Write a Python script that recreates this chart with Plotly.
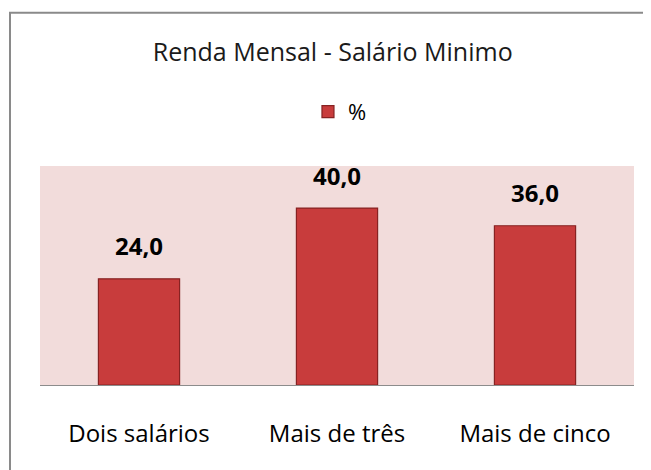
import plotly.graph_objects as go

categories = ["Dois salários", "Mais de três", "Mais de cinco"]
values = [24.0, 40.0, 36.0]
series_name = "%"
title_text = "Renda Mensal - Salário Minimo"

FONT = "Open Sans, Noto Sans, sans-serif"

fig = go.Figure()
fig.add_trace(go.Bar(
    x=categories, y=values, name=series_name, width=0.41,
    marker=dict(color="#c83c3c", line=dict(color="#872222", width=1.2)),
    showlegend=True,
))

annotations = [
    dict(x=c, y=v, text=f"{v:.1f}".replace(".", ","), showarrow=False,
         yshift=33, yanchor="middle",
         font=dict(family=FONT, size=24, color="#000000", weight="bold"),
         xref="x", yref="y")
    for c, v in zip(categories, values)
]

fig.update_layout(
    width=643, height=462,
    margin=dict(l=32, r=17, t=158, b=85),
    paper_bgcolor="white",
    plot_bgcolor="#f2dcdb",
    title=dict(text=title_text, x=0.505, xanchor="center", y=0.905, yanchor="middle",
               yref="container",
               font=dict(family=FONT, size=25, color="#1a1a1a")),
    legend=dict(orientation="h", x=0.505, xanchor="center", y=1.247, yanchor="middle",
                font=dict(family=FONT, size=22, color="#000000"),
                itemwidth=30, bgcolor="rgba(0,0,0,0)"),
    xaxis=dict(showgrid=False, showline=True, linecolor="#8c8c8c", linewidth=1,
               tickfont=dict(family=FONT, size=24, color="#000000"),
               ticks="", ticklabelstandoff=27),
    yaxis=dict(range=[0, 49.5], visible=False, showgrid=False, zeroline=False),
    annotations=annotations,
    shapes=[dict(type="rect", xref="paper", yref="paper",
                 x0=-0.0505, x1=1.3, y0=-1.0, y1=1.70,
                 line=dict(color="#8a8a8a", width=2), fillcolor="rgba(0,0,0,0)",
                 layer="below")],
)

fig.write_html("out.html")
